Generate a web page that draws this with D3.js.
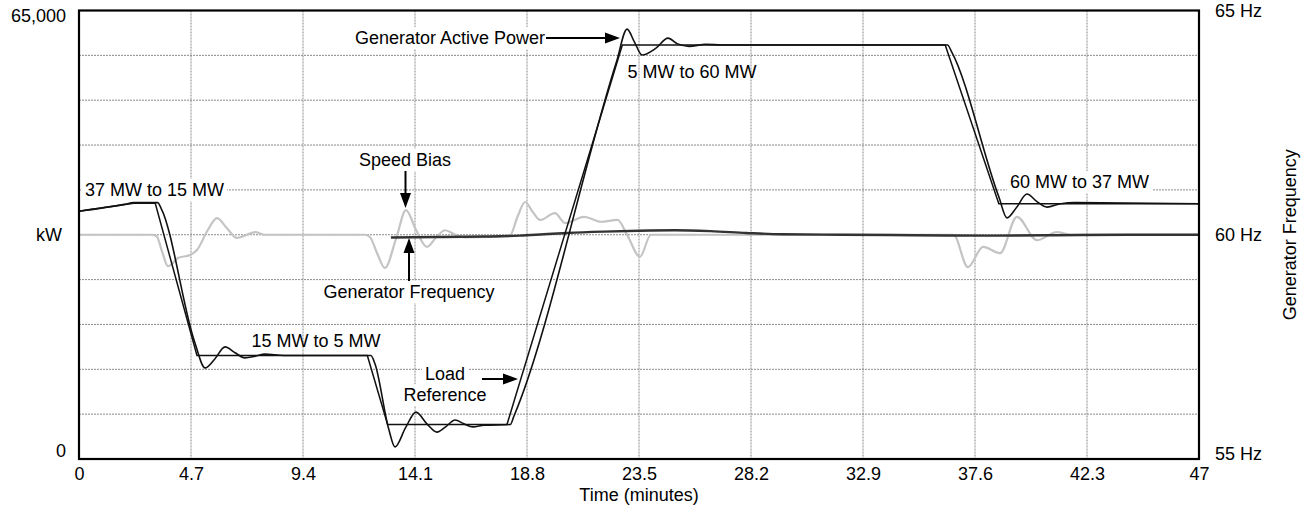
<!DOCTYPE html>
<html>
<head>
<meta charset="utf-8">
<script src="https://cdn.jsdelivr.net/npm/d3@7"></script>
<style>
  html, body { margin: 0; padding: 0; background: #fff; }
  svg { display: block; font-family: "Liberation Sans", Arial, sans-serif; }
</style>
</head>
<body>
<svg id="chart" width="1302" height="507"></svg>
<script>
// ---------- data ----------
const timeTicks = [0, 4.7, 9.4, 14.1, 18.8, 23.5, 28.2, 32.9, 37.6, 42.3, 47];
const kwTicks = [0, 65000];
const hzTicks = [55, 60, 65];

// Load Reference (time in minutes, kW)
const loadRefTime = [0, 1.93, 2.3, 3.2, 4.95, 12.1, 12.95, 17.96, 22.8, 36.35, 38.6, 47];
const loadRefKW   = [35900, 36900, 37050, 37050, 15000, 15000, 5000, 5000, 60000, 60000, 37000, 37000];

// Generator Active Power (time in minutes, kW)
const powerTime = [0, 1.9, 2.3, 3.3, 3.45, 4.85, 5.29, 5.7, 6.13, 6.55, 6.96, 7.4, 7.8, 8.6,
  12.25, 12.42, 13.0, 13.26, 13.7, 14.14, 14.6, 15.02, 15.4, 15.78, 16.15, 16.53, 17.0, 18.1,
  18.25, 22.55, 23.0, 23.3, 23.63, 24.2, 24.72, 25.1, 25.6, 26.3, 27, 36.45, 36.62, 38.6, 38.94,
  39.35, 39.78, 40.2, 40.62, 41.2, 41.8, 47];
const powerKW = [35900, 36900, 37150, 37150, 36300, 17000, 13200, 14500, 16250, 15400, 14650, 14900, 15200, 15000,
  15000, 13800, 4300, 1750, 4500, 6800, 5100, 3900, 4700, 5650, 5100, 4650, 4900, 5000,
  6200, 57500, 62300, 60500, 58550, 59500, 61000, 60200, 59800, 60100, 60000, 60000, 59000, 38000, 34950,
  36500, 38400, 37300, 36500, 37000, 37150, 37000];

// Generator Frequency (time in minutes, Hz)
const freqTime = [13.09, 15, 17, 18.5, 19.5, 20.5, 22, 23.5, 25, 26.5, 28, 29.5, 32, 35, 38, 41, 44, 47];
const freqHz   = [59.94, 59.95, 59.96, 59.98, 60.01, 60.04, 60.07, 60.09, 60.1, 60.08, 60.04, 60.01, 60.0, 59.99, 59.98, 59.99, 60.0, 60.0];

// Speed Bias (time in minutes, plotted on the Hz scale)
const biasTime = [0, 3.0, 3.25, 3.5, 3.73, 4.15, 4.66, 4.95, 5.4, 5.79, 6.2, 6.63, 7.0, 7.39, 7.8,
  12.0, 12.21, 12.5, 12.84, 13.3, 13.72, 14.15, 14.6, 15.0, 15.36, 15.8, 16.2, 17.25, 18.09,
  18.4, 18.72, 19.05, 19.35, 19.97, 20.4, 21.2, 21.9, 22.6, 23.0, 23.54, 24.0, 24.5,
  36.7, 37.3, 37.94, 38.65, 39.36, 40.2, 41.04, 41.6, 47];
const biasHz = [60, 60, 59.97, 59.6, 59.3, 59.48, 59.55, 59.66, 60.1, 60.37, 60.15, 59.93, 59.99, 60.06, 60.0,
  60.0, 59.95, 59.6, 59.26, 59.9, 60.55, 60.1, 59.73, 59.95, 60.1, 60.0, 59.94, 59.95, 59.99,
  60.4, 60.73, 60.5, 60.33, 60.48, 60.26, 60.4, 60.29, 60.33, 60.0, 59.51, 60.0, 60.0,
  60.0, 59.28, 59.73, 59.59, 60.4, 59.88, 60.06, 60.0, 60.0];

// ---------- layout ----------
const L = 79, R = 1199, T = 10.5, B = 459;
const svg = d3.select("#chart");

const x = d3.scaleLinear().domain([0, 47]).range([L, R]);
const yKW = d3.scaleLinear().domain([0, 65000]).range([B, T]);
const yHz = d3.scaleLinear().domain([55, 65]).range([B, T]);

// grid
const grid = svg.append("g");
grid.selectAll("line.v").data(timeTicks.slice(1, -1)).join("line")
  .attr("x1", d => x(d)).attr("x2", d => x(d)).attr("y1", T).attr("y2", B)
  .attr("stroke", "#8a8a8a").attr("stroke-width", 1).attr("stroke-dasharray", "2,1");
grid.selectAll("line.h").data(d3.range(56, 65, 1)).join("line")
  .attr("x1", L).attr("x2", R).attr("y1", d => yHz(d)).attr("y2", d => yHz(d))
  .attr("stroke", "#8a8a8a").attr("stroke-width", 1).attr("stroke-dasharray", "2,1");

const zip = (a, b) => a.map((v, i) => [v, b[i]]);

// speed bias
svg.append("path").datum(zip(biasTime, biasHz))
  .attr("fill", "none").attr("stroke", "#c4c4c4").attr("stroke-width", 2.2)
  .attr("d", d3.line().x(d => x(d[0])).y(d => yHz(d[1])).curve(d3.curveMonotoneX));

// generator frequency
svg.append("path").datum(zip(freqTime, freqHz))
  .attr("fill", "none").attr("stroke", "#333").attr("stroke-width", 2.4)
  .attr("d", d3.line().x(d => x(d[0])).y(d => yHz(d[1])).curve(d3.curveMonotoneX));

// load reference
svg.append("path").datum(zip(loadRefTime, loadRefKW))
  .attr("fill", "none").attr("stroke", "#111").attr("stroke-width", 1.5)
  .attr("d", d3.line().x(d => x(d[0])).y(d => yKW(d[1])));

// active power
svg.append("path").datum(zip(powerTime, powerKW))
  .attr("fill", "none").attr("stroke", "#111").attr("stroke-width", 1.6)
  .attr("d", d3.line().x(d => x(d[0])).y(d => yKW(d[1])).curve(d3.curveMonotoneX));

// frame
svg.append("rect").attr("x", L).attr("y", T).attr("width", R - L).attr("height", B - T)
  .attr("fill", "none").attr("stroke", "#000").attr("stroke-width", 2.2);

// axes
const fs = 18;
const xAxis = svg.append("g").attr("transform", `translate(0,${B})`)
  .call(d3.axisBottom(x).tickValues(timeTicks).tickSize(0).tickPadding(8).tickFormat(d => String(d)));
xAxis.select(".domain").remove();
xAxis.selectAll("text").attr("font-size", fs).attr("fill", "#000").attr("font-family", "Liberation Sans, Arial, sans-serif");

const yAxisL = svg.append("g").attr("transform", `translate(${L},0)`)
  .call(d3.axisLeft(yKW).tickValues(kwTicks).tickSize(0).tickPadding(13).tickFormat(d3.format(",")));
yAxisL.select(".domain").remove();
yAxisL.selectAll("text").attr("font-size", fs).attr("fill", "#000").attr("font-family", "Liberation Sans, Arial, sans-serif")
  .attr("dy", d => d === 0 ? "-0.12em" : "0.62em");

const yAxisR = svg.append("g").attr("transform", `translate(${R},0)`)
  .call(d3.axisRight(yHz).tickValues(hzTicks).tickSize(0).tickPadding(16).tickFormat(d => d + " Hz"));
yAxisR.select(".domain").remove();
yAxisR.selectAll("text").attr("font-size", fs).attr("fill", "#000").attr("font-family", "Liberation Sans, Arial, sans-serif")
  .attr("dy", d => d === 55 ? "0.0em" : "0.32em");

svg.append("text").attr("x", 62).attr("y", yHz(60) + 6).attr("text-anchor", "end")
  .attr("font-size", fs).text("kW");
svg.append("text").attr("x", x(23.5)).attr("y", 501).attr("text-anchor", "middle")
  .attr("font-size", fs).text("Time (minutes)");
svg.append("text").attr("transform", `translate(1296,${yHz(60)}) rotate(-90)`).attr("text-anchor", "middle")
  .attr("font-size", fs).text("Generator Frequency");

// annotations
function label(txt, xx, yy, anchor, bg) {
  const t = svg.append("text").attr("x", xx).attr("y", yy).attr("text-anchor", anchor || "start")
    .attr("font-size", fs).attr("fill", "#000").text(txt);
  if (bg) {
    const b = t.node().getBBox();
    svg.insert("rect", () => t.node()).attr("x", b.x - 3).attr("y", b.y - 1)
      .attr("width", b.width + 6).attr("height", b.height + 2).attr("fill", "#fff");
  }
  return t;
}
function arrow(x1, y1, x2, y2) {
  const ang = Math.atan2(y2 - y1, x2 - x1);
  const hl = 15, hw = 5.5;
  const bx = x2 - hl * Math.cos(ang), by = y2 - hl * Math.sin(ang);
  svg.append("line").attr("x1", x1).attr("y1", y1).attr("x2", bx).attr("y2", by)
    .attr("stroke", "#000").attr("stroke-width", 2);
  const px = -Math.sin(ang) * hw, py = Math.cos(ang) * hw;
  svg.append("path").attr("d", `M${x2},${y2}L${bx + px},${by + py}L${bx - px},${by - py}Z`).attr("fill", "#000");
}

label("37 MW to 15 MW", 85, 196, "start", true);
label("60 MW to 37 MW", 1010, 188, "start", true);
label("15 MW to 5 MW", 316, 347, "middle", false);
label("5 MW to 60 MW", 692, 78, "middle", false);
label("Speed Bias", 405, 166, "middle", true);
arrow(405.5, 171, 405.5, 208);
label("Generator Frequency", 409, 298, "middle", true);
arrow(409, 281, 409, 238);
label("Load", 445, 380, "middle", true);
label("Reference", 445, 401, "middle", true);
arrow(482, 379, 518, 379);
label("Generator Active Power", 545, 44, "end", true);
arrow(546, 38, 620, 38);
</script>
</body>
</html>
